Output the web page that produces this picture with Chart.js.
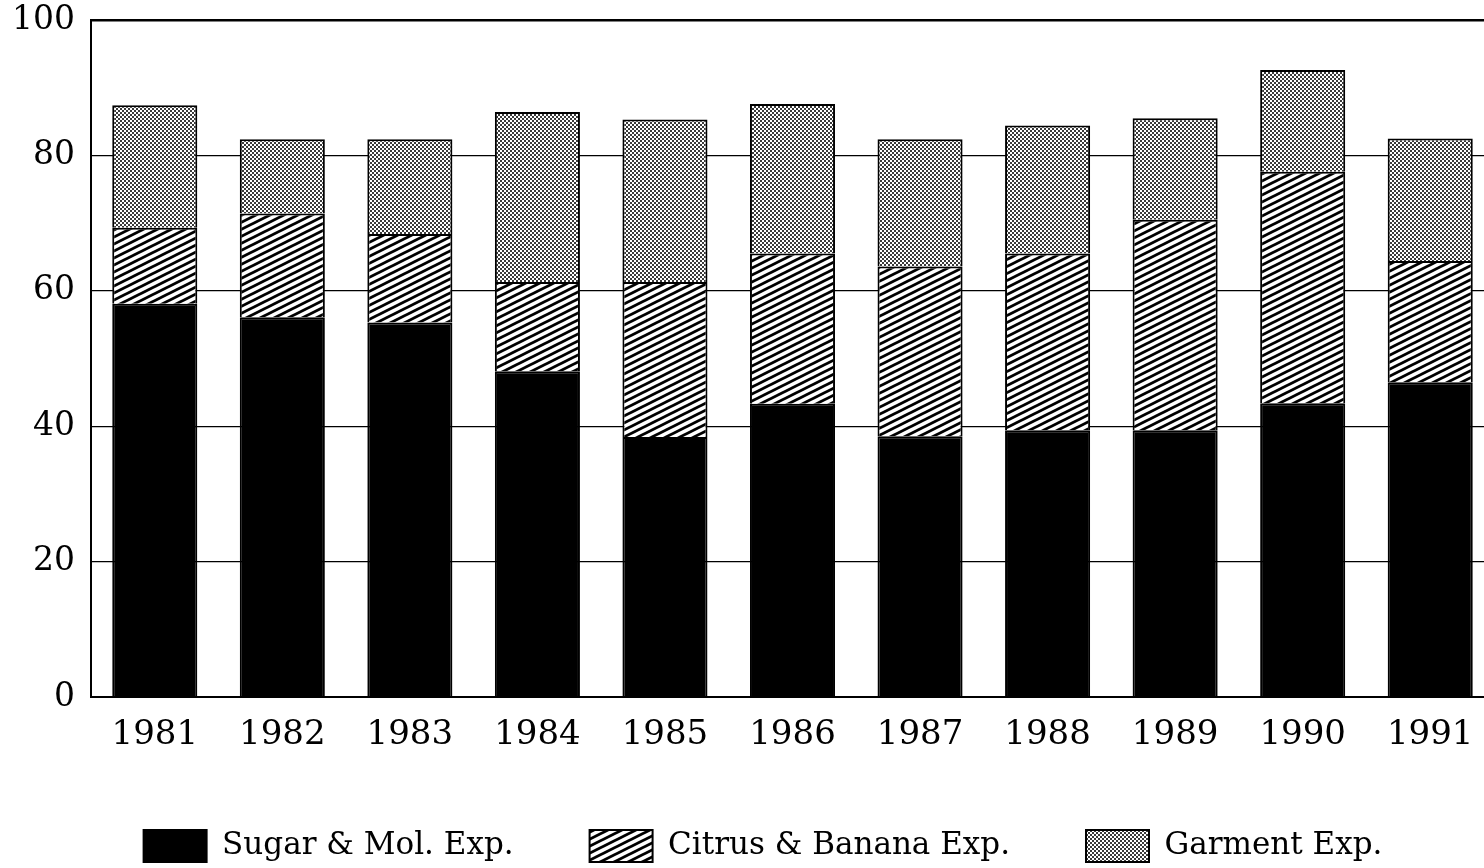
<!DOCTYPE html>
<html>
<head>
<meta charset="utf-8">
<script src="https://cdn.jsdelivr.net/npm/chart.js@4.4.1/dist/chart.umd.min.js"></script>
<style>
  html, body { margin: 0; padding: 0; background: #fff; overflow: hidden; }
  #wrap { width: 1500px; height: 868px; }
</style>
</head>
<body>
<div id="wrap"><canvas id="exportChart"></canvas></div>
<script>
const years = ["1981", "1982", "1983", "1984", "1985", "1986", "1987", "1988", "1989", "1990", "1991"];
const sugarExp = [58.1, 56.1, 55.3, 48.1, 38.4, 43.3, 38.5, 39.4, 39.4, 43.4, 46.5];
const citrusExp = [11.2, 15.3, 13.1, 13.2, 22.9, 22.2, 25.1, 26.1, 31.1, 34.2, 17.9];
const garmentExp = [18.1, 11.0, 14.0, 25.1, 24.0, 22.1, 18.8, 18.9, 15.0, 15.0, 18.1];
const yTicks = [0, 20, 40, 60, 80, 100];

const fontFamily = "'DejaVu Serif', 'Liberation Serif', serif";

// diagonal hatch like the printed chart
function makeHatch() {
    const c = document.createElement("canvas");
    c.width = 14; c.height = 7;
    const g = c.getContext("2d");
    g.fillStyle = "#fff";
    g.fillRect(0, 0, 14, 7);
    g.strokeStyle = "#000";
    g.lineWidth = 2.8;
    for (let k = -1; k <= 1; k++) {
        g.beginPath();
        g.moveTo(-14 + k * 14, 14);
        g.lineTo(28 + k * 14, -7);
        g.stroke();
    }
    return g.createPattern(c, "repeat");
}

// stippled grey (dither)
function makeDots() {
    const c = document.createElement("canvas");
    c.width = 4; c.height = 4;
    const g = c.getContext("2d");
    g.fillStyle = "#fff";
    g.fillRect(0, 0, 4, 4);
    g.fillStyle = "#3a3a3a";
    g.fillRect(0, 0, 2, 2);
    g.fillRect(2, 2, 2, 2);
    return g.createPattern(c, "repeat");
}

// legend in the original sits a bit right of centre and low
const legendShift = {
    id: "legendShift",
    afterLayout(chart) {
        if (!chart.legend) return;
        chart.legend.left += 32;
        chart.legend.top += 4;
        chart.legend.bottom += 4;
    }
};

document.addEventListener("DOMContentLoaded", function () {
    const ctx = document.getElementById("exportChart").getContext("2d");
    Chart.defaults.font.family = fontFamily;
    Chart.defaults.color = "#000";

    new Chart(ctx, {
        type: "bar",
        data: {
            labels: years,
            datasets: [
                { label: "Sugar & Mol. Exp.", data: sugarExp, backgroundColor: "#000", borderColor: "#000", borderWidth: 2 },
                { label: "Citrus & Banana Exp.", data: citrusExp, backgroundColor: makeHatch(), borderColor: "#000", borderWidth: 2 },
                { label: "Garment Exp.", data: garmentExp, backgroundColor: makeDots(), borderColor: "#000", borderWidth: 2 }
            ]
        },
        plugins: [legendShift],
        options: {
            responsive: true,
            maintainAspectRatio: false,
            animation: false,
            datasets: { bar: { barPercentage: 0.667, categoryPercentage: 1.0 } },
            layout: { padding: { top: 20, right: 6, left: 0, bottom: 0 } },
            plugins: {
                tooltip: { enabled: false },
                legend: {
                    display: true,
                    position: "bottom",
                    labels: {
                        boxWidth: 63,
                        boxHeight: 32,
                        padding: 76,
                        font: { size: 31, family: fontFamily }
                    }
                }
            },
            scales: {
                x: {
                    stacked: true,
                    grid: { display: false, drawTicks: false },
                    border: { display: true, color: "#000", width: 2 },
                    ticks: { padding: 18, font: { size: 34, family: fontFamily } },
                    afterFit: function (scale) { scale.height = 53; }
                },
                y: {
                    stacked: true,
                    min: 0,
                    max: 100,
                    afterBuildTicks: function (scale) {
                        scale.ticks = yTicks.map(v => ({ value: v }));
                    },
                    grid: {
                        drawTicks: false,
                        color: "#000",
                        lineWidth: c => (c.tick && c.tick.value === 100 ? 2.5 : 1.3)
                    },
                    border: { display: true, color: "#000", width: 2 },
                    ticks: { padding: 16, font: { size: 33, family: fontFamily } },
                    afterFit: function (scale) {
                        scale.width = 91;
                        scale.paddingTop = 0;
                        scale.paddingBottom = 0;
                    }
                }
            }
        }
    });
});
</script>
</body>
</html>
